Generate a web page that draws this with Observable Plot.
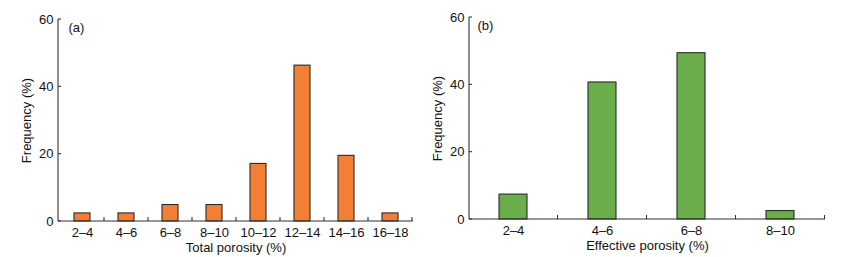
<!DOCTYPE html>
<html>
<head>
<meta charset="utf-8">
<script src="https://cdn.jsdelivr.net/npm/d3@7"></script>
<script src="https://cdn.jsdelivr.net/npm/@observablehq/plot@0.6"></script>
<style>
  html, body { margin: 0; padding: 0; background: #fff; }
  #wrap { display: flex; width: 841px; height: 257px; }
  #wrap svg { display: block; }
</style>
</head>
<body>
<div id="wrap"></div>
<script>
const catsA = ["2–4", "4–6", "6–8", "8–10", "10–12", "12–14", "14–16", "16–18"];
const freqA = [2.4, 2.4, 4.9, 4.9, 17.1, 46.3, 19.5, 2.4];
const catsB = ["2–4", "4–6", "6–8", "8–10"];
const freqB = [7.4, 40.7, 49.4, 2.5];
const yTicks = [0, 20, 40, 60];

function axesMark(cats) {
  return (index, scales, values, dims) => {
    const x = scales.x, y = scales.y;
    const g = d3.create("svg:g").attr("stroke", "#333").attr("fill", "none").attr("stroke-width", 1.1);
    const x0 = dims.marginLeft, x1 = dims.width - dims.marginRight;
    const y0 = y(0), yTop = y(60);
    g.append("line").attr("x1", x0).attr("x2", x0).attr("y1", y0).attr("y2", yTop);
    g.append("line").attr("x1", x0).attr("x2", x1).attr("y1", y0).attr("y2", y0);
    yTicks.forEach(t => g.append("line").attr("x1", x0).attr("x2", x0 + 3).attr("y1", y(t)).attr("y2", y(t)));
    cats.forEach(c => {
      const b = x(c) + x.bandwidth() / 2 + x.step() / 2;
      g.append("line").attr("x1", b).attr("x2", b).attr("y1", y0).attr("y2", y0 - 4);
    });
    return g.node();
  };
}

function panel(cats, vals, opts) {
  const data = cats.map((c, i) => ({cat: c, val: vals[i]}));
  return Plot.plot({
    width: opts.width,
    height: 257,
    marginLeft: opts.ml,
    marginRight: opts.mr,
    marginTop: opts.mt,
    marginBottom: opts.mb,
    style: {fontFamily: "'Liberation Sans', Arial, sans-serif", fontSize: "13px", color: "#111", background: "#fff"},
    x: {domain: cats, paddingInner: opts.pad, paddingOuter: opts.pad / 2, label: null},
    y: {domain: [0, 60], label: null},
    marks: [
      Plot.barY(data, {x: "cat", y: "val", fill: opts.color, stroke: "#2a2a2a", strokeWidth: 1.1}),
      Plot.axisX({tickSize: 0, tickPadding: 6, label: opts.xlabel, labelAnchor: "center", labelArrow: "none", labelOffset: 30, fontSize: 13}),
      Plot.axisY({ticks: yTicks, tickSize: 0, tickPadding: 5, label: "Frequency (%)", labelAnchor: "center", labelArrow: "none", labelOffset: 37, fontSize: 13}),
      axesMark(cats),
      Plot.text([opts.tag], {frameAnchor: "top-left", dx: opts.tagdx, dy: opts.tagdy, fontSize: 13, fill: "#111"})
    ]
  });
}

const wrap = document.getElementById("wrap");
wrap.append(panel(catsA, freqA, {width: 420, ml: 58, mr: 7, mt: 19, mb: 36, pad: 0.64, color: "#F37F35", xlabel: "Total porosity (%)", tag: "(a)", tagdx: 10, tagdy: 3}));
wrap.append(panel(catsB, freqB, {width: 421, ml: 49, mr: 16, mt: 17, mb: 38, pad: 0.68, color: "#6BAD4B", xlabel: "Effective porosity (%)", tag: "(b)", tagdx: 8, tagdy: 3}));
</script>
</body>
</html>
